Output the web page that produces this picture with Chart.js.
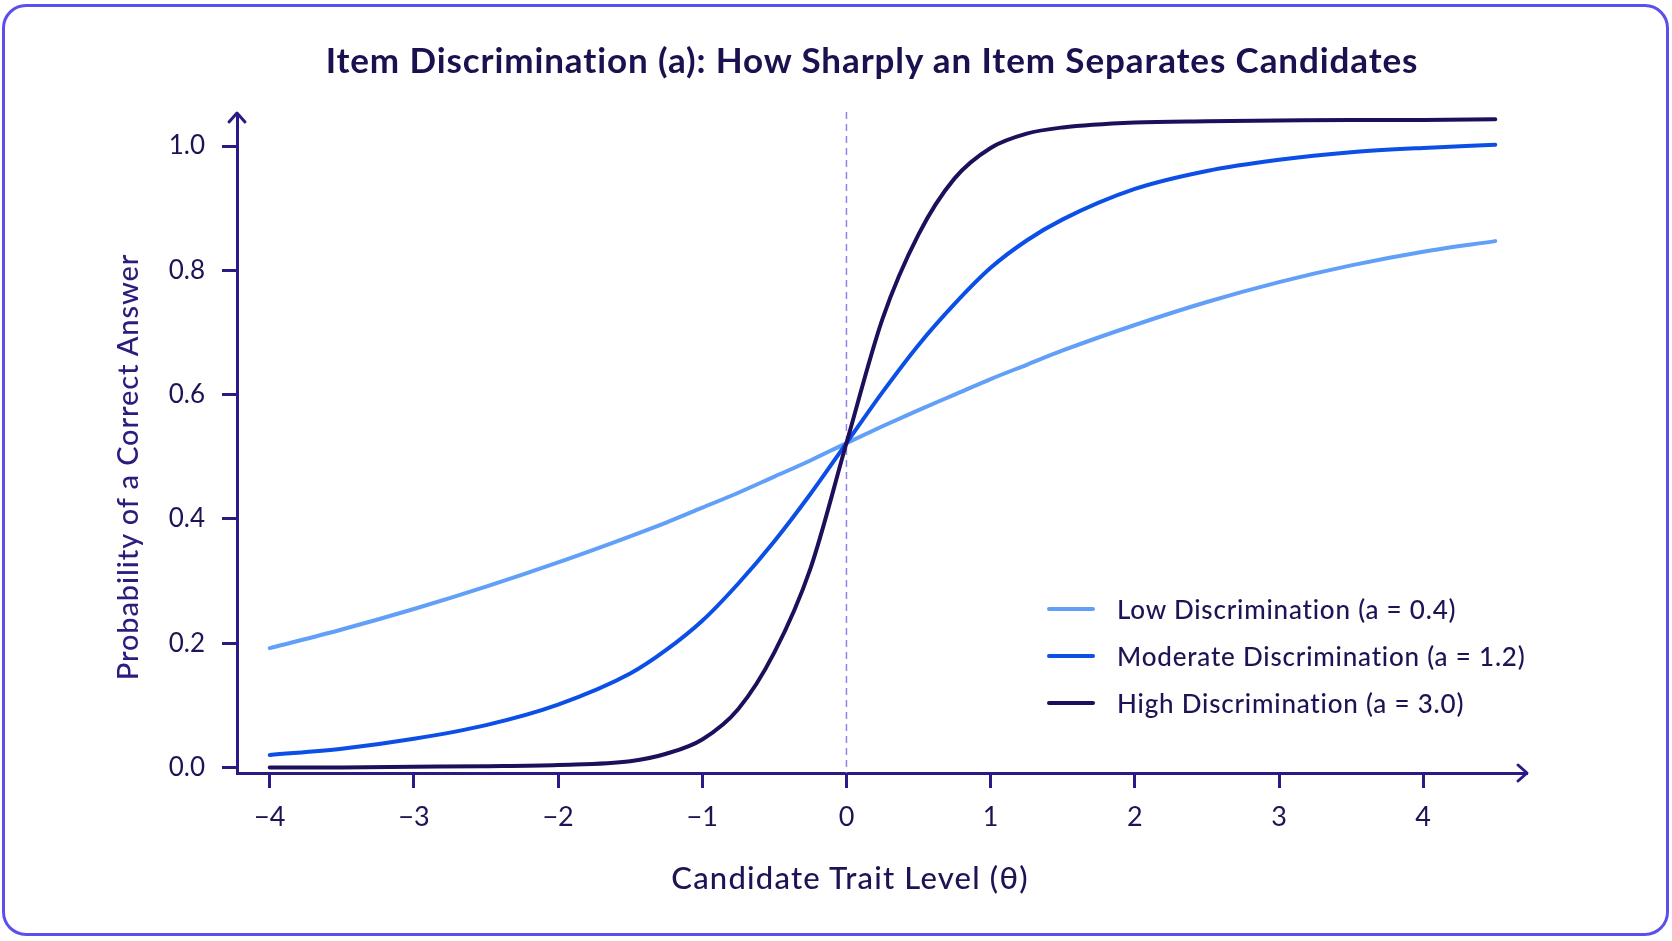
<!DOCTYPE html>
<html>
<head>
<meta charset="utf-8">
<script src="https://cdn.jsdelivr.net/npm/chart.js@4.4.1/dist/chart.umd.min.js"></script>
<style>
  html, body { margin: 0; padding: 0; background: #ffffff; }
  #wrap { position: relative; width: 1672px; height: 941px; overflow: hidden; font-family: Lato, "Open Sans", sans-serif; }
  #card { position: absolute; left: 2px; top: 4px; width: 1667px; height: 932px; box-sizing: border-box;
          border: 3.5px solid #5b50ee; border-radius: 24px; }
  canvas { position: absolute; left: 0; top: 0; }
  .txt { position: absolute; transform: translate(-50%, -50%); white-space: nowrap; }
  #title { left: 872px; top: 59px; font-size: 35px; font-weight: 700; letter-spacing: 0.9px; color: #1a1150; }
  #ytitle { left: 126px; top: 467px; font-size: 29px; font-weight: 500; letter-spacing: 0.9px; color: #2d1b7e;
            transform: translate(-50%, -50%) rotate(-90deg); }
  #xtitle { left: 850px; top: 877px; font-size: 31px; font-weight: 500; letter-spacing: 1.2px; color: #1c1454; }
  #legend { position: absolute; left: 1047px; top: 585px; }
  .row { display: flex; align-items: center; height: 47px; font-size: 26px; font-weight: 500; letter-spacing: 0.8px; color: #1c1454; }
  .swatch { width: 48px; height: 4px; border-radius: 2px; margin-right: 22px; }
</style>
</head>
<body>
<div id="wrap">
  <canvas id="chart" width="1672" height="941"></canvas>
  <div id="card"></div>
  <div id="title" class="txt">Item Discrimination (a): How Sharply an Item Separates Candidates</div>
  <div id="ytitle" class="txt">Probability of a Correct Answer</div>
  <div id="xtitle" class="txt">Candidate Trait Level (θ)</div>
  <div id="legend"></div>
</div>
<script>
// ================================
// DATA
// ================================

const theta = [-4, -3.5, -3, -2.5, -2, -1.5, -1.25, -1, -0.75, -0.5, -0.25, 0, 0.25, 0.5, 0.75, 1, 1.25, 1.5, 2, 2.5, 3, 3.5, 4, 4.5];

const lowDisc = [0.192, 0.222, 0.255, 0.291, 0.330, 0.372, 0.394, 0.418, 0.442, 0.468, 0.494, 0.522, 0.549, 0.575, 0.600, 0.625, 0.648, 0.671, 0.712, 0.749, 0.781, 0.808, 0.830, 0.847];

const modDisc = [0.020, 0.030, 0.046, 0.068, 0.101, 0.151, 0.189, 0.236, 0.296, 0.364, 0.440, 0.522, 0.604, 0.680, 0.746, 0.804, 0.848, 0.882, 0.931, 0.960, 0.978, 0.990, 0.997, 1.002];

const highDisc = [0.000, 0.000, 0.001, 0.002, 0.004, 0.010, 0.022, 0.045, 0.094, 0.185, 0.320, 0.522, 0.722, 0.858, 0.948, 0.997, 1.020, 1.030, 1.038, 1.040, 1.041, 1.042, 1.042, 1.043];

const seriesLabels = [
    "Low Discrimination (a = 0.4)",
    "Moderate Discrimination (a = 1.2)",
    "High Discrimination (a = 3.0)"
];

const xTicks = [-4, -3, -2, -1, 0, 1, 2, 3, 4];
const yTicks = [0, 0.2, 0.4, 0.6, 0.8, 1.0];

const colors = ["#62a0f8", "#0b4fe6", "#1e0f5c"];
const axisColor = "#2a1a86";
const labelColor = "#1c1454";

const toPoints = arr => theta.map((t, i) => ({ x: t, y: arr[i] }));

// ================================
// LEGEND (html)
// ================================

const legendEl = document.getElementById("legend");
seriesLabels.forEach((lab, i) => {
    const row = document.createElement("div");
    row.className = "row";
    row.innerHTML = '<span class="swatch" style="background:' + colors[i] + '"></span><span></span>';
    row.lastChild.textContent = lab;
    legendEl.appendChild(row);
});

// ================================
// AXIS ARROWS + ZERO LINE
// ================================

const decorPlugin = {
    id: "decor",
    beforeDatasetsDraw(chart) {
        const { ctx, chartArea, scales } = chart;
        const x0 = scales.x.getPixelForValue(0);
        ctx.save();
        ctx.strokeStyle = "#8f83e8";
        ctx.lineWidth = 1.5;
        ctx.setLineDash([7, 5]);
        ctx.beginPath();
        ctx.moveTo(x0, chartArea.top - 3);
        ctx.lineTo(x0, chartArea.bottom);
        ctx.stroke();
        ctx.restore();
    },
    afterDraw(chart) {
        const { ctx, chartArea } = chart;
        ctx.save();
        ctx.strokeStyle = axisColor;
        ctx.lineWidth = 3;
        ctx.lineCap = "round";
        ctx.lineJoin = "round";
        // y arrow
        ctx.beginPath();
        ctx.moveTo(chartArea.left - 8, chartArea.top + 7);
        ctx.lineTo(chartArea.left, chartArea.top - 2);
        ctx.lineTo(chartArea.left + 8, chartArea.top + 7);
        ctx.stroke();
        // x arrow
        ctx.beginPath();
        ctx.moveTo(chartArea.right - 9, chartArea.bottom - 8);
        ctx.lineTo(chartArea.right, chartArea.bottom);
        ctx.lineTo(chartArea.right - 9, chartArea.bottom + 8);
        ctx.stroke();
        ctx.restore();
    }
};

// ================================
// CHART
// ================================

const ctx = document.getElementById("chart");

new Chart(ctx, {
    type: "line",

    data: {
        datasets: [
            { label: seriesLabels[0], data: toPoints(lowDisc), borderColor: colors[0], order: 3 },
            { label: seriesLabels[1], data: toPoints(modDisc), borderColor: colors[1], order: 2 },
            { label: seriesLabels[2], data: toPoints(highDisc), borderColor: colors[2], order: 1 }
        ].map(d => Object.assign(d, {
            borderWidth: 4,
            pointRadius: 0,
            fill: false,
            cubicInterpolationMode: "monotone",
            borderCapStyle: "round",
            clip: false
        }))
    },

    options: {
        responsive: false,
        animation: false,
        events: [],
        layout: {
            padding: { top: 115, right: 145, bottom: 0, left: 0 }
        },
        plugins: {
            legend: { display: false },
            title: { display: false },
            tooltip: { enabled: false }
        },
        scales: {
            x: {
                type: "linear",
                min: -4.227,
                max: 4.72,
                afterFit: s => { s.height = 168; },
                afterBuildTicks: s => { s.ticks = xTicks.map(v => ({ value: v })); },
                grid: {
                    drawOnChartArea: false,
                    tickLength: 15,
                    tickWidth: 3,
                    tickColor: axisColor
                },
                border: { color: axisColor, width: 3 },
                ticks: {
                    padding: 13,
                    color: labelColor,
                    font: { family: "Lato", size: 27 },
                    callback: v => v < 0 ? "\u2212" + Math.abs(v) : String(v)
                }
            },
            y: {
                min: -0.009,
                max: 1.05,
                afterFit: s => { s.width = 237; },
                afterBuildTicks: s => { s.ticks = yTicks.map(v => ({ value: v })); },
                grid: {
                    drawOnChartArea: false,
                    tickLength: 15,
                    tickWidth: 3,
                    tickColor: axisColor
                },
                border: { color: axisColor, width: 3 },
                ticks: {
                    padding: 17,
                    color: labelColor,
                    font: { family: "Lato", size: 26 },
                    callback: v => Number(v).toFixed(1)
                }
            }
        }
    },

    plugins: [decorPlugin]
});
</script>
</body>
</html>
